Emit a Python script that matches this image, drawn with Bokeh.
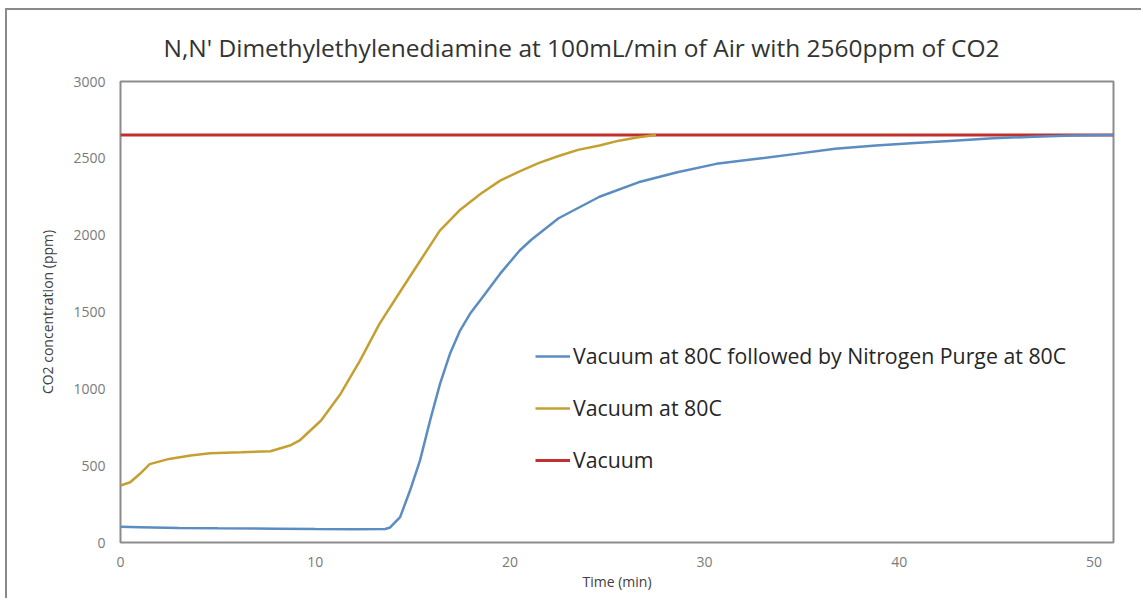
from bokeh.plotting import figure
from bokeh.models import Legend, LegendItem, Range1d, FixedTicker
from bokeh.embed import file_html
from bokeh.resources import INLINE

# ---- data ----
t_blue = [0, 1, 3, 5, 8, 10, 12, 13.6, 13.85, 14.36, 14.87, 15.38, 15.9, 16.41, 16.92,
          17.44, 17.95, 18.46, 19.49, 20.5, 21.1, 22.5, 24.6, 26.6, 28.6, 30.6, 32.7,
          34.7, 36.7, 38.8, 40.8, 42.8, 44.8, 46.9, 48.9, 51]
v_blue = [102, 100, 95, 92, 90, 88, 87, 88, 98, 165, 338, 533, 794, 1032, 1228,
          1379, 1488, 1574, 1748, 1900, 1970, 2110, 2250, 2344, 2409, 2464, 2497,
          2529, 2562, 2583, 2600, 2615, 2630, 2641, 2648, 2652]

t_gold = [0, 0.5, 1, 1.5, 2.5, 3.6, 4.6, 6.2, 7.7, 8.7, 9.2, 10.3, 11.3, 12.3, 13.3,
          14.4, 15.4, 16.4, 17.4, 18.5, 19.5, 20.5, 21.5, 22.5, 23.5, 24.6, 25.6,
          26.6, 27.5]
v_gold = [371, 392, 447, 510, 544, 566, 581, 587, 594, 631, 664, 794, 967, 1184, 1423,
          1640, 1835, 2030, 2160, 2269, 2355, 2415, 2470, 2515, 2555, 2583, 2615,
          2637, 2652]

t_red = [0, 51]
v_red = [2652, 2652]

labels = ["Vacuum at 80C followed by Nitrogen Purge at 80C", "Vacuum at 80C", "Vacuum"]
colors = ["#5b8cc2", "#c4a032", "#c0302e"]

x_ticks = [0, 10, 20, 30, 40, 50]
y_ticks = [0, 500, 1000, 1500, 2000, 2500, 3000]

FONT = "Open Sans"

p = figure(width=1136, height=590, output_backend="svg", toolbar_location=None,
           x_range=Range1d(0, 51), y_range=Range1d(0, 3000),
           min_border_left=113, min_border_right=30, min_border_top=71, min_border_bottom=58,
           title="N,N' Dimethylethylenediamine at 100mL/min of Air with 2560ppm of CO2")
p.styles = {"margin-left": "5px", "margin-top": "8px",
            "border-left": "2px solid #8a8a8a", "border-top": "2px solid #8a8a8a"}

p.title.text_font = FONT
p.title.text_font_size = "24.5px"
p.title.text_font_style = "normal"
p.title.text_color = "#333333"
p.title.align = "left"
p.title.offset = 43
p.title.standoff = 35

p.outline_line_color = "#8c8c8c"
p.outline_line_width = 2
p.xgrid.visible = False
p.ygrid.visible = False
p.background_fill_color = "white"
p.border_fill_color = "white"

for ax in (p.xaxis[0], p.yaxis[0]):
    ax.axis_line_color = None
    ax.major_tick_line_color = None
    ax.minor_tick_line_color = None
    ax.major_tick_out = 0
    ax.major_tick_in = 0
    ax.major_label_text_font = FONT
    ax.major_label_text_font_size = "14px"
    ax.major_label_text_color = "#7a7a7a"
    ax.axis_label_text_font = FONT
    ax.axis_label_text_font_size = "14px"
    ax.axis_label_text_font_style = "normal"
    ax.axis_label_text_color = "#404040"

p.xaxis[0].ticker = FixedTicker(ticks=x_ticks)
p.yaxis[0].ticker = FixedTicker(ticks=y_ticks)
p.xaxis[0].axis_label = "Time (min)"
p.yaxis[0].axis_label = "CO2 concentration (ppm)"
p.xaxis[0].major_label_standoff = 14
p.xaxis[0].axis_label_standoff = 2
p.yaxis[0].major_label_standoff = 15
p.yaxis[0].axis_label_standoff = 13

r_red = p.line(t_red, v_red, line_color=colors[2], line_width=3)
r_blue = p.line(t_blue, v_blue, line_color=colors[0], line_width=2.5)
r_gold = p.line(t_gold, v_gold, line_color=colors[1], line_width=2.5)

legend = Legend(items=[LegendItem(label=labels[0], renderers=[r_blue]),
                       LegendItem(label=labels[1], renderers=[r_gold]),
                       LegendItem(label=labels[2], renderers=[r_red])],
                location=(415, 68), orientation="vertical")
legend.background_fill_alpha = 0
legend.border_line_color = None
legend.padding = 0
legend.margin = 0
legend.spacing = 23
legend.glyph_width = 35
legend.glyph_height = 20
legend.label_height = 20
legend.label_standoff = 3
legend.label_text_font = FONT
legend.label_text_font_size = "21.3px"
legend.label_text_color = "#262626"
p.add_layout(legend)

open("out.html", "w").write(file_html(p, INLINE))
